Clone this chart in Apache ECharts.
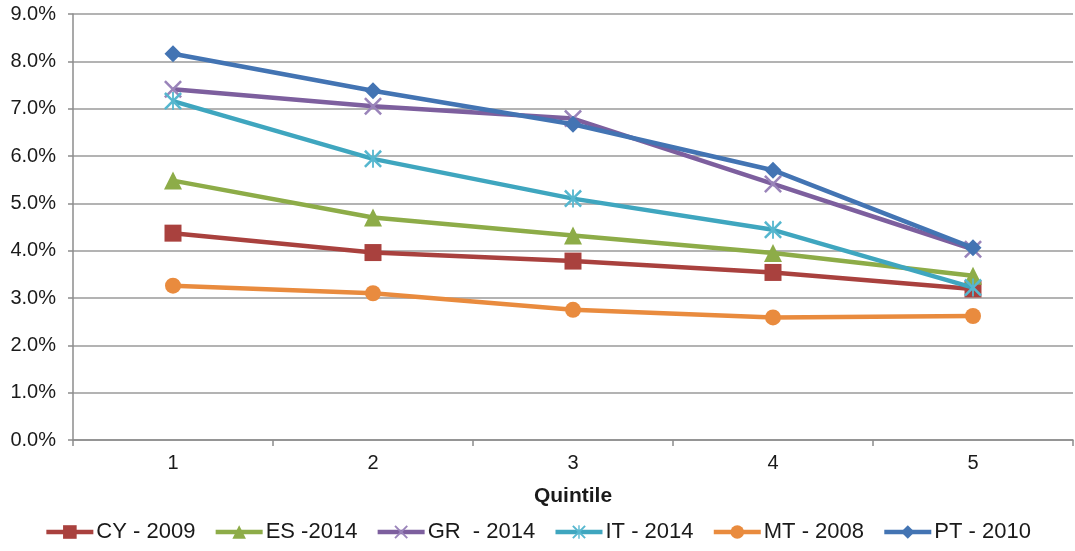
<!DOCTYPE html>
<html>
<head>
<meta charset="utf-8">
<script src="https://cdn.jsdelivr.net/npm/echarts@6/dist/echarts.min.js"></script>
<style>html,body{margin:0;padding:0;background:#fff}#c{width:1075px;height:551px}</style>
</head>
<body>
<div id="c"></div>
<script>
var categories = ['1', '2', '3', '4', '5'];
var seriesNames = ['CY - 2009', 'ES -2014', 'GR  - 2014', 'IT - 2014', 'MT - 2008', 'PT - 2010'];
var cy2009 = [4.37, 3.96, 3.78, 3.54, 3.19];
var es2014 = [5.48, 4.70, 4.32, 3.95, 3.47];
var gr2014 = [7.41, 7.05, 6.79, 5.41, 4.03];
var it2014 = [7.16, 5.94, 5.10, 4.44, 3.22];
var mt2008 = [3.26, 3.10, 2.75, 2.59, 2.62];
var pt2010 = [8.16, 7.38, 6.67, 5.70, 4.06];
var yTicks = [0, 1, 2, 3, 4, 5, 6, 7, 8, 9];

var colors = ['#A9413E', '#8DAC48', '#7D5F9E', '#3FA6BF', '#E98B3E', '#4374B3'];
var xPath = 'path://M1,0 L5,4 L9,0 L10,1 L6,5 L10,9 L9,10 L5,6 L1,10 L0,9 L4,5 L0,1 Z';
var starPath = 'path://M1,0 L4.5,3.5 L4.5,0 L5.5,0 L5.5,3.5 L9,0 L10,1 L6,5 L10,9 L9,10 L5.5,6.5 L5.5,10 L4.5,10 L4.5,6.5 L1,10 L0,9 L4,5 L0,1 Z';
var symbols = ['rect', 'triangle', xPath, starPath, 'circle', 'diamond'];
var symSizes = [17, 18, 18, 18, 16, 17];
var data = [cy2009, es2014, gr2014, it2014, mt2008, pt2010];
var markerColors = ['#A9413E', '#8DAC48', '#9A84BA', '#56B7CF', '#E98B3E', '#4374B3'];

var series = data.map(function (d, i) {
  return {
    name: seriesNames[i],
    type: 'line',
    data: d,
    symbol: symbols[i],
    symbolSize: symSizes[i],
    lineStyle: { color: colors[i], width: 4.5 },
    itemStyle: { color: markerColors[i] },
    showAllSymbol: true,
    z: 2 + i
  };
});

var chart = echarts.init(document.getElementById('c'), null, { renderer: 'canvas' });
chart.setOption({
  animation: false,
  backgroundColor: '#fff',
  color: colors,
  grid: { left: 73, right: 2, top: 14, bottom: 111, containLabel: false },
  xAxis: {
    type: 'category',
    data: categories,
    boundaryGap: true,
    name: 'Quintile',
    nameLocation: 'middle',
    nameGap: 46,
    nameTextStyle: { fontFamily: 'Liberation Sans, Arial', fontWeight: 'bold', fontSize: 21, color: '#1a1a1a' },
    axisLine: { lineStyle: { color: '#8c8c8c', width: 1.5 } },
    axisTick: { show: true, length: 6, alignWithLabel: false, lineStyle: { color: '#8c8c8c', width: 1.5 } },
    axisLabel: { fontFamily: 'Liberation Sans, Arial', fontSize: 20, color: '#1a1a1a', margin: 13 },
    splitLine: { show: false }
  },
  yAxis: {
    type: 'value',
    min: yTicks[0],
    max: yTicks[yTicks.length - 1],
    interval: 1,
    axisLine: { show: true, lineStyle: { color: '#8c8c8c', width: 1.5 } },
    axisTick: { show: true, length: 5, lineStyle: { color: '#8c8c8c', width: 1.5 } },
    axisLabel: {
      fontFamily: 'Liberation Sans, Arial', fontSize: 20, color: '#1a1a1a', margin: 17,
      formatter: function (v) { return v.toFixed(1) + '%'; }
    },
    splitLine: { show: true, lineStyle: { color: '#9a9a9a', width: 1.5 } }
  },
  legend: {
    bottom: 3,
    left: 'center',
    itemWidth: 47,
    itemHeight: 17,
    itemGap: 18,
    lineStyle: { width: 4.5 },
    textStyle: { fontFamily: 'Liberation Sans, Arial', fontSize: 22, color: '#1a1a1a', padding: [0, 0, 0, -2] },
    data: seriesNames
  },
  series: series
});
</script>
</body>
</html>
